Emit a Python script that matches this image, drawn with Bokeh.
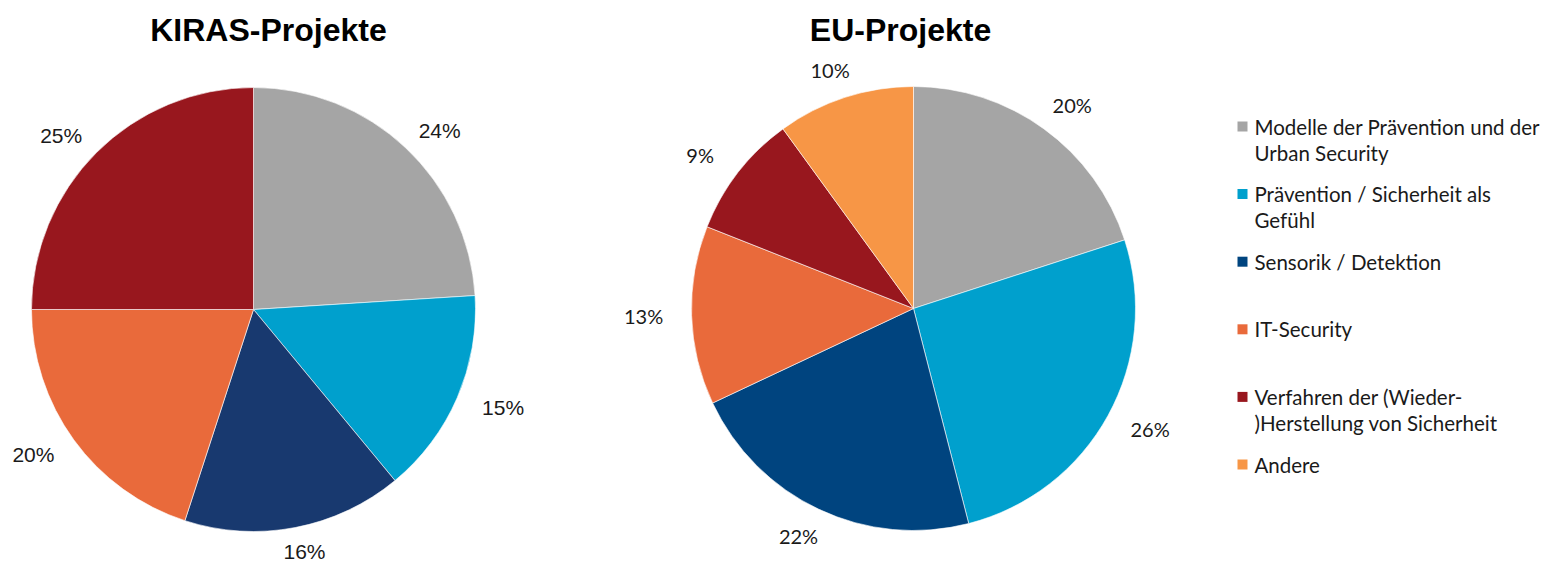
import numpy as np
from bokeh.plotting import figure
from bokeh.models import ColumnDataSource, Range1d
from bokeh.core.properties import value
from bokeh.embed import file_html
from bokeh.resources import INLINE

# ---------------- data ----------------
categories = [
    "Modelle der Prävention und der\nUrban Security",
    "Prävention / Sicherheit als\nGefühl",
    "Sensorik / Detektion",
    "IT-Security",
    "Verfahren der (Wieder-\n)Herstellung von Sicherheit",
    "Andere",
]
kiras_values = [24, 15, 16, 20, 25]
eu_values = [20, 26, 22, 13, 9, 10]
kiras_colors = ["#A5A5A5", "#00A0CD", "#18396F", "#E96A3B", "#98171E"]
eu_colors = ["#A5A5A5", "#00A0CD", "#00447F", "#E96A3B", "#98171E", "#F79646"]
legend_colors = ["#A5A5A5", "#00A0CD", "#00447F", "#E96A3B", "#98171E", "#F79646"]
titles = ["KIRAS-Projekte", "EU-Projekte"]

W, H = 1560, 564

p = figure(width=W, height=H, output_backend="svg", toolbar_location=None,
           x_axis_type=None, y_axis_type=None, min_border=0,
           x_range=Range1d(0, W), y_range=Range1d(0, H))
p.grid.visible = False
p.outline_line_color = None
p.background_fill_color = "white"
p.border_fill_color = "white"


def Y(py):
    return H - py


def draw_pie(vals, cols, cx, cy, r, rx, ry, font, size):
    v = np.array(vals, dtype=float)
    frac = v / v.sum()
    cum = np.concatenate([[0], np.cumsum(frac)])
    start = np.pi / 2 - cum[:-1] * 2 * np.pi
    end = np.pi / 2 - cum[1:] * 2 * np.pi
    src = ColumnDataSource(dict(x=[cx] * len(v), y=[Y(cy)] * len(v),
                                start=start, end=end, color=cols))
    p.wedge(x="x", y="y", radius=r, radius_units="screen",
            start_angle="start", end_angle="end", direction="clock",
            fill_color="color", line_color="white", line_width=0.6, source=src)
    mid = (cum[:-1] + cum[1:]) / 2 * 2 * np.pi  # clockwise from top
    lx = cx + rx * np.sin(mid)
    ly = cy - ry * np.cos(mid)
    lsrc = ColumnDataSource(dict(x=lx, y=[Y(t) for t in ly],
                                 t=[f"{int(x)}%" for x in vals]))
    p.text(x="x", y="y", text="t", source=lsrc, text_align="center",
           text_baseline="middle", text_font=value(font),
           text_font_size=size, text_color="#1a1a1a")


draw_pie(kiras_values, kiras_colors, 253, 309, 222, 272, 246,
         "Liberation Sans", "21px")
draw_pie(eu_values, eu_colors, 913, 308, 222, 270, 251,
         "Lato", "20px")

# titles
p.text(x=[268, 900], y=[Y(29), Y(29)], text=titles, text_align="center",
       text_baseline="middle", text_font=value("Liberation Sans"),
       text_font_style="bold", text_font_size="32px", text_color="black")

# legend
lx0, ly0, step = 1237, 126, 67.6
sq = dict(x=[], y=[], c=[])
tx = dict(x=[], y=[], t=[])
for i, (cat, col) in enumerate(zip(categories, legend_colors)):
    yy = ly0 + i * step
    sq["x"].append(lx0 + 5)
    sq["y"].append(Y(yy))
    sq["c"].append(col)
    for j, line in enumerate(cat.split("\n")):
        tx["x"].append(lx0 + 17)
        tx["y"].append(Y(yy + j * 26))
        tx["t"].append(line)
p.rect(x="x", y="y", width=10, height=10, width_units="screen",
       height_units="screen", fill_color="c", line_color=None,
       source=ColumnDataSource(sq))
p.text(x="x", y="y", text="t", source=ColumnDataSource(tx),
       text_align="left", text_baseline="middle", text_font=value("Lato"),
       text_font_size="20.5px", text_color="#1a1a1a")

open("out.html", "w").write(file_html(p, INLINE))
